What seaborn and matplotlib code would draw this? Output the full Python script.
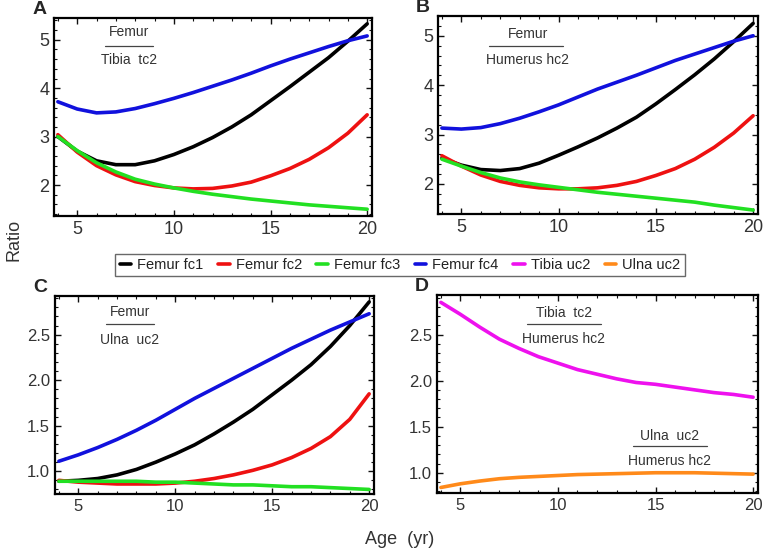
import pandas as pd
import matplotlib.pyplot as plt
import seaborn as sns
from matplotlib.ticker import MultipleLocator

# ages (yr)
age = [4, 5, 6, 7, 8, 9, 10, 11, 12, 13, 14, 15, 16, 17, 18, 19, 20]

# panel A: Femur / Tibia tc2
a_fc1 = [3.00, 2.70, 2.50, 2.42, 2.42, 2.50, 2.63, 2.79, 2.98, 3.20, 3.45, 3.74, 4.03, 4.33, 4.63, 4.97, 5.33]
a_fc2 = [3.04, 2.68, 2.40, 2.21, 2.07, 1.99, 1.94, 1.92, 1.93, 1.98, 2.06, 2.19, 2.34, 2.53, 2.77, 3.07, 3.45]
a_fc3 = [3.00, 2.71, 2.46, 2.27, 2.12, 2.02, 1.94, 1.87, 1.81, 1.76, 1.71, 1.67, 1.63, 1.59, 1.56, 1.53, 1.50]
a_fc4 = [3.72, 3.57, 3.49, 3.51, 3.58, 3.68, 3.79, 3.91, 4.04, 4.17, 4.31, 4.46, 4.60, 4.73, 4.86, 4.98, 5.08]

# panel B: Femur / Humerus hc2
b_fc1 = [2.52, 2.38, 2.29, 2.27, 2.31, 2.42, 2.58, 2.75, 2.93, 3.13, 3.35, 3.62, 3.91, 4.21, 4.53, 4.88, 5.25]
b_fc2 = [2.57, 2.36, 2.18, 2.05, 1.97, 1.92, 1.90, 1.90, 1.92, 1.97, 2.05, 2.17, 2.31, 2.50, 2.74, 3.03, 3.38]
b_fc3 = [2.50, 2.36, 2.23, 2.12, 2.04, 1.98, 1.93, 1.88, 1.83, 1.79, 1.75, 1.71, 1.67, 1.63, 1.57, 1.52, 1.47]
b_fc4 = [3.13, 3.11, 3.14, 3.22, 3.33, 3.46, 3.60, 3.76, 3.92, 4.06, 4.20, 4.35, 4.50, 4.63, 4.76, 4.89, 5.00]

# panel C: Femur / Ulna uc2
c_fc1 = [0.89, 0.90, 0.92, 0.96, 1.02, 1.10, 1.19, 1.29, 1.41, 1.54, 1.68, 1.84, 2.00, 2.17, 2.37, 2.60, 2.86]
c_fc2 = [0.90, 0.88, 0.87, 0.86, 0.86, 0.86, 0.87, 0.89, 0.92, 0.96, 1.01, 1.07, 1.15, 1.25, 1.38, 1.57, 1.85]
c_fc3 = [0.89, 0.89, 0.89, 0.89, 0.89, 0.88, 0.88, 0.87, 0.86, 0.85, 0.85, 0.84, 0.83, 0.83, 0.82, 0.81, 0.80]
c_fc4 = [1.11, 1.18, 1.26, 1.35, 1.45, 1.56, 1.68, 1.80, 1.91, 2.02, 2.13, 2.24, 2.35, 2.45, 2.55, 2.64, 2.73]

# panel D: Tibia tc2 / Humerus hc2 and Ulna uc2 / Humerus hc2
d_tibia = [2.85, 2.72, 2.58, 2.45, 2.35, 2.26, 2.19, 2.12, 2.07, 2.02, 1.98, 1.96, 1.93, 1.90, 1.87, 1.85, 1.82]
d_ulna = [0.84, 0.88, 0.91, 0.935, 0.95, 0.96, 0.97, 0.98, 0.985, 0.99, 0.995, 1.0, 1.0, 1.0, 0.995, 0.99, 0.985]

labels = ["Femur fc1", "Femur fc2", "Femur fc3", "Femur fc4", "Tibia uc2", "Ulna uc2"]
colors = ["#000000", "#ee1111", "#22e022", "#1111dd", "#ee11ee", "#ff8a1a"]

sns.set_style("ticks")
plt.rcParams["font.family"] = ["Liberation Sans", "DejaVu Sans"]
plt.rcParams["lines.solid_joinstyle"] = "round"

fig = plt.figure(figsize=(7.63, 5.54), dpi=100)
W, H = 763, 554


def add_ax(l, r, t, b):
    return fig.add_axes([l / W, 1 - b / H, (r - l) / W, (b - t) / H])


axA = add_ax(54, 372, 18, 216)
axB = add_ax(438, 758, 16, 214)
axC = add_ax(55, 374, 296, 494)
axD = add_ax(437, 758, 295, 493)

panels = [
    (axA, [a_fc1, a_fc2, a_fc3, a_fc4], (1.36, 5.45), "A"),
    (axB, [b_fc1, b_fc2, b_fc3, b_fc4], (1.39, 5.40), "B"),
    (axC, [c_fc1, c_fc2, c_fc3, c_fc4], (0.75, 2.925), "C"),
    (axD, [None, None, None, None, d_tibia, d_ulna], (0.78, 2.93), "D"),
]

for ax, series, ylim, tag in panels:
    for i, vals in enumerate(series):
        if vals is None:
            continue
        df = pd.DataFrame({"age": age, "ratio": vals})
        sns.lineplot(data=df, x="age", y="ratio", ax=ax, color=colors[i], lw=2.6)
    ax.set_xlim(3.8, 20.25)
    ax.set_ylim(*ylim)
    ax.set_xlabel("")
    ax.set_ylabel("")
    ax.xaxis.set_major_locator(MultipleLocator(5))
    ax.xaxis.set_minor_locator(MultipleLocator(1))
    if tag in "AB":
        ax.yaxis.set_major_locator(MultipleLocator(1))
        ax.yaxis.set_minor_locator(MultipleLocator(0.2))
        ax.yaxis.set_major_formatter(plt.FormatStrFormatter("%d"))
        lsize = 13
    else:
        ax.yaxis.set_major_locator(MultipleLocator(0.5))
        ax.yaxis.set_minor_locator(MultipleLocator(0.1))
        ax.yaxis.set_major_formatter(plt.FormatStrFormatter("%.1f"))
        lsize = 12
    ax.tick_params(which="both", direction="in", top=True, right=True, color="#111111")
    ax.tick_params(which="major", length=4, width=1.0, labelsize=lsize, labelcolor="#333333")
    ax.tick_params(which="minor", length=2.2, width=0.8)
    for s in ax.spines.values():
        s.set_linewidth(1.6)
        s.set_color("black")
    ax.text(-0.068, 1.0, tag, transform=ax.transAxes, fontsize=14, fontweight="bold",
            ha="left", va="bottom")


def fraction(ax, num, den, xc, x0, x1, yn, yl, yd):
    ax.text(xc, yn, num, transform=ax.transAxes, ha="center", va="center", fontsize=10, color="#333333")
    ax.plot([x0, x1], [yl, yl], transform=ax.transAxes, color="#444444", lw=0.9)
    ax.text(xc, yd, den, transform=ax.transAxes, ha="center", va="center", fontsize=10, color="#333333")


fraction(axA, "Femur", "Tibia  tc2", 0.235, 0.16, 0.31, 0.93, 0.86, 0.79)
fraction(axB, "Femur", "Humerus hc2", 0.28, 0.16, 0.39, 0.91, 0.85, 0.78)
fraction(axC, "Femur", "Ulna  uc2", 0.235, 0.16, 0.31, 0.92, 0.86, 0.78)
fraction(axD, "Tibia  tc2", "Humerus hc2", 0.395, 0.28, 0.51, 0.91, 0.855, 0.78)
fraction(axD, "Ulna  uc2", "Humerus hc2", 0.725, 0.61, 0.84, 0.29, 0.235, 0.16)

handles = [plt.Line2D([], [], color=c, lw=2.6) for c in colors]
fig.legend(handles, labels, loc="center", bbox_to_anchor=(400 / W, 1 - 265 / H), ncol=6,
           fontsize=10.5, frameon=True, fancybox=False, edgecolor="#444444",
           handlelength=0.8, handletextpad=0.4, columnspacing=1.0, borderpad=0.3,
           labelcolor="#222222")

fig.text(14 / W, 1 - 240 / H, "Ratio", rotation=90, ha="center", va="center", fontsize=13, color="#333333")
fig.text(400 / W, 1 - 540 / H, "Age  (yr)", ha="center", va="center", fontsize=13, color="#333333")

fig.savefig("out.png", dpi=100)
